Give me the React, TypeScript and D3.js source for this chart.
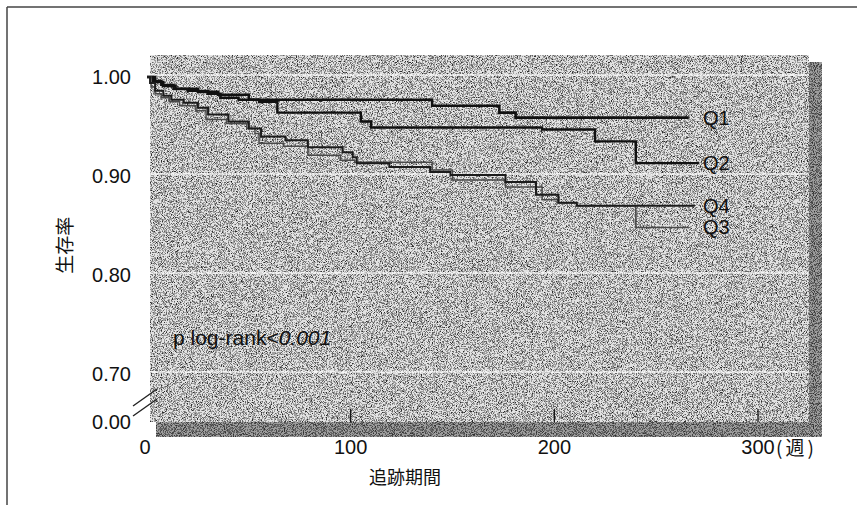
import React from "react";
import * as d3 from "d3";

// survival curves (weeks, survival at that step)
const q1Weeks = [0, 4, 8, 14, 25, 35, 50, 140, 173, 181];
const q1Surv = [1.0, 0.995, 0.991, 0.988, 0.985, 0.982, 0.977, 0.971, 0.964, 0.959];

const q2Weeks = [0, 3, 7, 13, 20, 30, 36, 45, 55, 64, 105, 110, 194, 220, 240];
const q2Surv = [1.0, 0.996, 0.992, 0.988, 0.986, 0.983, 0.979, 0.977, 0.975, 0.964, 0.955, 0.949, 0.947, 0.935, 0.913];

const q3Weeks = [0, 2, 4, 7, 11, 16, 24, 29, 39, 49, 53, 55, 67, 79, 95, 102, 140, 150, 176, 194, 202, 211, 240];
const q3Surv = [1.0, 0.99, 0.983, 0.979, 0.975, 0.971, 0.966, 0.957, 0.953, 0.948, 0.943, 0.933, 0.93, 0.921, 0.916, 0.914, 0.906, 0.896, 0.889, 0.876, 0.873, 0.87, 0.848];

const q4Weeks = [0, 1.5, 4, 8, 12, 18, 25, 30, 40, 50, 56, 68, 79, 96, 101, 103, 119, 139, 149, 176, 191, 202, 211];
const q4Surv = [1.0, 0.994, 0.986, 0.981, 0.977, 0.974, 0.969, 0.962, 0.955, 0.948, 0.94, 0.936, 0.929, 0.924, 0.919, 0.913, 0.909, 0.904, 0.901, 0.894, 0.881, 0.873, 0.87];

const seriesNames = ["Q1", "Q2", "Q3", "Q4"];
const lastWeek = [266, 271, 266, 269];

const yTicks = [1.0, 0.9, 0.8, 0.7, 0.0];
const yGrid = [1.0, 0.9, 0.8, 0.7];
const xTicks = [0, 100, 200, 300];

const W = 857;
const H = 505;

const xScale = d3.scaleLinear().domain([0, 300]).range([147, 758]);
// broken axis: 0.00 sits just under 0.70
const yScale = d3.scaleLinear().domain([0, 0.7, 1.0]).range([422, 374, 77]);

const strokes = [
  { color: "#111", width: 2.6 },
  { color: "#111", width: 2.4 },
  { color: "#4a4a4a", width: 1.5 },
  { color: "#1c1c1c", width: 2 },
];

const numFont = "'Liberation Sans', Arial, sans-serif";
const cjkFont = "'Noto Sans CJK JP', sans-serif";

export default function App() {
  const weeks = [q1Weeks, q2Weeks, q3Weeks, q4Weeks];
  const surv = [q1Surv, q2Surv, q3Surv, q4Surv];
  const series = seriesNames.map((name, i) => {
    const pts: [number, number][] = weeks[i].map((w, j) => [w, surv[i][j]]);
    pts.push([lastWeek[i], surv[i][surv[i].length - 1]]);
    return { name, pts };
  });

  const stepLine = d3
    .line<[number, number]>()
    .x((d) => xScale(d[0]))
    .y((d) => yScale(d[1]))
    .curve(d3.curveStepAfter);

  const left = xScale(0) + 3;
  const right = xScale(325);
  const top = yScale(1.0) - 22;
  const bottom = yScale(0);
  const labelX = xScale(273);

  // break marks between 0.70 and 0.00
  const brkY = (yScale(0.7) + yScale(0)) / 2 + 5;

  return (
    <svg
      width={W}
      height={H}
      style={{ position: "absolute", left: 0, top: 0, background: "#fff" }}
    >
      <defs>
        <filter id="grain" x="0" y="0" width="1" height="1">
          <feTurbulence type="fractalNoise" baseFrequency="1.2" numOctaves="1" seed="4" result="t" />
          <feColorMatrix
            in="t"
            type="matrix"
            values="0 0 0 0 0  0 0 0 0 0  0 0 0 0 0  1 0 0 0 0"
            result="a"
          />
          <feComponentTransfer in="a">
            <feFuncA type="discrete" tableValues="0 0 0 0 0 0.3 0.55 0.8 0.9 1" />
          </feComponentTransfer>
        </filter>
        <filter id="grainDark" x="0" y="0" width="1" height="1">
          <feTurbulence type="fractalNoise" baseFrequency="1.1" numOctaves="1" seed="9" result="t" />
          <feColorMatrix
            in="t"
            type="matrix"
            values="0 0 0 0 0  0 0 0 0 0  0 0 0 0 0  1 0 0 0 0"
            result="a"
          />
          <feComponentTransfer in="a">
            <feFuncA type="discrete" tableValues="0 0 0 0 0 0.35 0.55 0.7 0.85 1" />
          </feComponentTransfer>
        </filter>
      </defs>

      {/* frame */}
      <line x1={7} y1={7} x2={W} y2={7} stroke="#444" strokeWidth={1.5} />
      <line x1={7} y1={7} x2={7} y2={H} stroke="#444" strokeWidth={1.5} />

      {/* panel shadow */}
      <rect x={left + 6} y={top + 7} width={right - left + 7} height={bottom - top + 8} fill="#9c9c9c" />
      <rect x={left + 6} y={top + 7} width={right - left + 7} height={bottom - top + 8} fill="#000" filter="url(#grainDark)" />

      {/* panel */}
      <rect x={left} y={top} width={right - left} height={bottom - top} fill="#e2e2e2" />
      <rect x={left} y={top} width={right - left} height={bottom - top} fill="#000" filter="url(#grain)" />

      {yGrid.map((v) => (
        <line
          key={v}
          x1={left}
          x2={right}
          y1={yScale(v) - 2}
          y2={yScale(v) - 2}
          stroke="#fff"
          strokeOpacity={0.6}
          strokeWidth={2}
        />
      ))}

      {xTicks.slice(1).map((t) => (
        <line key={t} x1={xScale(t)} x2={xScale(t)} y1={bottom} y2={bottom - 13} stroke="#111" strokeWidth={1.3} />
      ))}

      {series.map((s, i) => (
        <path
          key={s.name}
          d={stepLine(s.pts) || ""}
          fill="none"
          stroke={strokes[i].color}
          strokeWidth={strokes[i].width}
        />
      ))}

      {series.map((s) => (
        <text
          key={s.name}
          x={labelX}
          y={yScale(s.pts[s.pts.length - 1][1])}
          dominantBaseline="central"
          fontFamily={numFont}
          fontSize={20}
          fill="#111"
        >
          {s.name}
        </text>
      ))}

      {/* y axis labels */}
      {yTicks.map((v) => (
        <text
          key={v}
          x={131}
          y={yScale(v)}
          textAnchor="end"
          dominantBaseline="central"
          fontFamily={numFont}
          fontSize={20}
          fill="#111"
        >
          {d3.format(".2f")(v)}
        </text>
      ))}

      <line x1={133} y1={brkY + 3} x2={157} y2={brkY - 14} stroke="#222" strokeWidth={1.4} />
      <line x1={133} y1={brkY + 13} x2={157} y2={brkY - 4} stroke="#222" strokeWidth={1.4} />

      {/* x axis labels */}
      {xTicks.map((t) => (
        <text
          key={t}
          x={t === 0 ? xScale(t) - 2 : xScale(t)}
          y={447}
          textAnchor="middle"
          dominantBaseline="central"
          fontFamily={numFont}
          fontSize={20}
          fill="#111"
        >
          {t}
        </text>
      ))}
      <text
        x={xScale(300) + 18}
        y={446}
        dominantBaseline="central"
        fontFamily={cjkFont}
        fontSize={19}
        letterSpacing={3}
        fill="#111"
      >
        (週)
      </text>

      <text
        x={405}
        y={476}
        textAnchor="middle"
        dominantBaseline="central"
        fontFamily={cjkFont}
        fontSize={18}
        fill="#111"
      >
        追跡期間
      </text>

      <text
        transform={`translate(63, ${yScale(0.83)}) rotate(-90)`}
        textAnchor="middle"
        dominantBaseline="central"
        fontFamily={cjkFont}
        fontSize={19}
        fill="#111"
      >
        生存率
      </text>

      <text
        x={173}
        y={yScale(0.737)}
        dominantBaseline="central"
        fontFamily={numFont}
        fontSize={21}
        fill="#111"
      >
        p log-rank&lt;<tspan fontStyle="italic">0.001</tspan>
      </text>
    </svg>
  );
}
